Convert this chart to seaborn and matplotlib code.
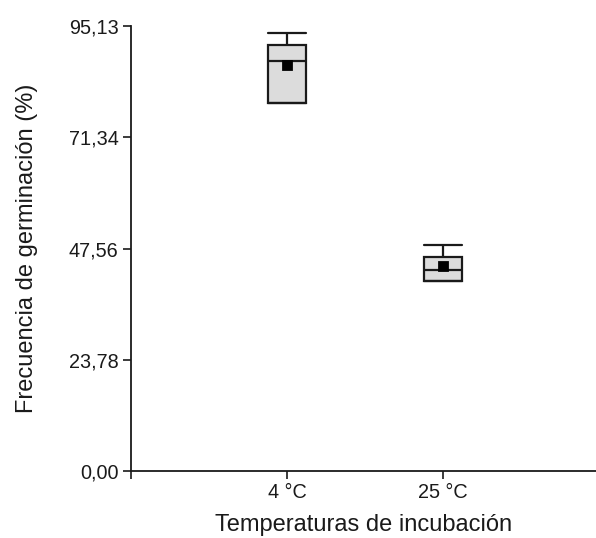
import numpy as np
import pandas as pd
import matplotlib
matplotlib.use("Agg")
import matplotlib.pyplot as plt
import seaborn as sns

# Data (germination frequency, %)
categories = ["4 °C", "25 °C"]
q1 = [78.7, 40.6]
median = [87.6, 43.0]
q3 = [91.1, 45.7]
whisker_hi = [93.6, 48.3]
means = [86.8, 43.8]
ytick_vals = [0.00, 23.78, 47.56, 71.34, 95.13]
ytick_labels = ["0,00", "23,78", "47,56", "71,34", "95,13"]

# Build minimal samples that reproduce the summary statistics
rows = []
for c, a, m, b, h in zip(categories, q1, median, q3, whisker_hi):
    for v in (a, a, m, b, h):
        rows.append({"Temperatura": c, "Frecuencia": v})
df = pd.DataFrame(rows)
df_mean = pd.DataFrame({"Temperatura": categories, "Frecuencia": means})

sns.set_style("ticks")
plt.rcParams["font.family"] = ["Liberation Sans", "DejaVu Sans"]

fig = plt.figure(figsize=(5.96, 5.38), dpi=100)
ax = fig.add_axes([131 / 596, 1 - 471 / 538, 465 / 596, 445 / 538])

sns.boxplot(data=df, x="Temperatura", y="Frecuencia", order=categories,
            width=0.24, whis=(0, 100), color="#dcdcdc", linecolor="#1a1a1a",
            linewidth=1.6, ax=ax, capwidths=0.24, showfliers=False,
            saturation=1)
sns.scatterplot(data=df_mean, x="Temperatura", y="Frecuencia", marker="s",
                s=50, color="black", edgecolor="black", ax=ax, zorder=5)

ax.set_xlim(-1, 465 / 156 - 1)
ax.set_ylim(0, 95.13)
ax.set_yticks(ytick_vals)
ax.set_yticklabels(ytick_labels)
ax.set_xticks([-1, 0, 1])
ax.set_xticklabels(["", categories[0], categories[1]])

for s in ["top", "right"]:
    ax.spines[s].set_visible(False)
for s in ["left", "bottom"]:
    ax.spines[s].set_linewidth(1.3)
    ax.spines[s].set_color("#1a1a1a")
ax.tick_params(axis="both", length=6, width=1.2, color="#1a1a1a",
               labelsize=14.3, labelcolor="#1a1a1a", pad=3)

ax.set_xlabel("Temperaturas de incubación", fontsize=17, color="#1a1a1a", labelpad=8)
ax.set_ylabel("Frecuencia de germinación (%)", fontsize=17, color="#1a1a1a", labelpad=22)

fig.savefig("out.png", dpi=100)
